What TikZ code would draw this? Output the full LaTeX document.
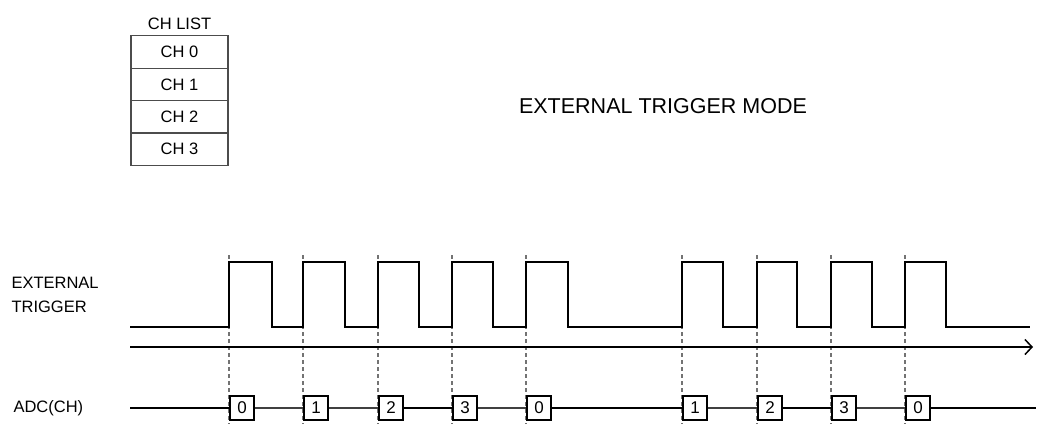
\documentclass[tikz,border=0pt]{standalone}
\usepackage{fontspec}
\setmainfont{Liberation Sans}
\usetikzlibrary{arrows.meta, positioning}
\tikzset{
    chbox/.style = {draw=black!70, line width=1.3pt, rectangle, minimum width=97pt, minimum height=32.4pt, inner sep=0pt, outer sep=0pt, text centered, font=\fontsize{16.5}{19}\selectfont},
    label/.style = {align=left, font=\fontsize{16.5}{24}\selectfont},
    title/.style = {font=\fontsize{21.5}{24}\selectfont},
    adcbox/.style = {draw, line width=2.4pt, rectangle, minimum width=24pt, minimum height=24pt, inner sep=0pt, fill=white, font=\fontsize{17}{20}\selectfont},
    signal/.style = {line width=2.5pt},
    adcline/.style = {line width=2.4pt},
    adcthin/.style = {draw=black!75, line width=1.4pt},
    timeaxis/.style = {line width=1.5pt, -{Straight Barb[length=7pt, width=15pt, line width=1.5pt]}},
    guide/.style = {draw=black!55, line width=2.6pt, dash pattern=on 4pt off 3pt}
}

\begin{document}
\begin{tikzpicture}[x=1pt, y=-1pt]
    \useasboundingbox (0,0) rectangle (1041,424);

    % channel list
    \node[chbox] (ch0) at (179.5,52) {CH 0};
    \node[chbox, below=0pt of ch0] (ch1) {CH 1};
    \node[chbox, below=0pt of ch1] (ch2) {CH 2};
    \node[chbox, below=0pt of ch2] (ch3) {CH 3};
    \node[label, above=3pt of ch0] (chlist) {CH LIST};

    \node[title] (mode) at (663,106) {EXTERNAL TRIGGER MODE};

    % signal names
    \node[label, anchor=west] (trig) at (8,295) {EXTERNAL\\TRIGGER};
    \node[label, anchor=west] (adc) at (10,408) {ADC(CH)};

    % dashed trigger marks
    \foreach \r in {229,303,378,452,526,682,757,831,905}
        \draw[guide] (\r,255) -- (\r,424);

    % trigger waveform
    \draw[signal] (130,327)
        foreach \r/\f in {229/272, 303/345, 378/419, 452/493, 526/568, 682/723, 757/797, 831/872, 905/946}
        { -- (\r,327) -- (\r,262) -- (\f,262) -- (\f,327) } -- (1030,327);

    % time axis
    \coordinate (t0) at (130,347);
    \coordinate (t1) at (1033,347);
    \draw[timeaxis] (t0) -- (t1);

    % converted channels
    \coordinate (a0) at (130,408);
    \coordinate (aend) at (1036,408);
    \node[adcbox, anchor=west] (a1) at (229,408) {0};
    \node[adcbox, anchor=west] (a2) at (303,408) {1};
    \node[adcbox, anchor=west] (a3) at (378,408) {2};
    \node[adcbox, anchor=west] (a4) at (452,408) {3};
    \node[adcbox, anchor=west] (a5) at (526,408) {0};
    \node[adcbox, anchor=west] (a6) at (682,408) {1};
    \node[adcbox, anchor=west] (a7) at (757,408) {2};
    \node[adcbox, anchor=west] (a8) at (831,408) {3};
    \node[adcbox, anchor=west] (a9) at (905,408) {0};

    \draw[adcline] (a0) -- (a1.west);
    \draw[adcthin] (a1.east) -- (a2.west);
    \draw[adcthin] (a2.east) -- (a3.west);
    \draw[adcline] (a3.east) -- (a4.west);
    \draw[adcthin] (a4.east) -- (a5.west);
    \draw[adcline] (a5.east) -- (a6.west);
    \draw[adcthin] (a6.east) -- (a7.west);
    \draw[adcline] (a7.east) -- (a8.west);
    \draw[adcthin] (a8.east) -- (a9.west);
    \draw[adcline] (a9.east) -- (aend);
\end{tikzpicture}
\end{document}
